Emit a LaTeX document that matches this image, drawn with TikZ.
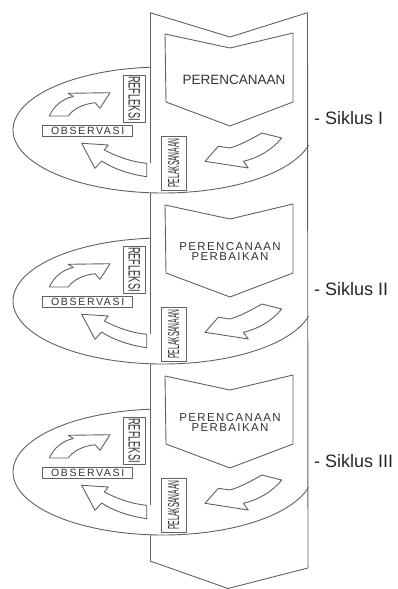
\documentclass[tikz,border=0pt]{standalone}
\usepackage{fontspec}
\setmainfont{Liberation Sans}
\newfontfamily\spA[LetterSpace=12]{Liberation Sans}
\newfontfamily\spB[LetterSpace=16]{Liberation Sans}
\begin{document}
\begin{tikzpicture}[x=1pt,y=-1pt,
  ln/.style={draw=black!62, line width=0.9pt, line join=round},
  blk/.style={ln, fill=white},
  txt/.style={text=black!80, inner sep=0pt},
  lbox/.style={ln, txt, inner sep=0pt, fill=white},
  sik/.style={txt, text=black!85, anchor=west, font=\fontsize{18}{18}\selectfont}]
\useasboundingbox (0,0) rectangle (398,589);
% column corners
\coordinate (tl) at (150,12.7);
\coordinate (tn) at (230,37);
\coordinate (tr) at (307.5,12.7);
\coordinate (bl) at (150,561);
\coordinate (bt) at (228,588.5);
\coordinate (br) at (308,568);
\draw[ln] (tl) -- (tn) -- (tr) -- (br) -- (bt) -- (bl);
\draw[ln] (tl) -- (150,163);
\draw[ln] (150,193) -- (150,334);
\draw[ln] (150,364) -- (150,505);
\draw[ln] (150,535) -- (bl);
\foreach \k in {0,1,2}{
\begin{scope}[shift={(0,171*\k)}]
  % disc
  \draw[ln] plot[smooth, domain=-95:-346, samples=120, variable=\t]
    ({163+150*cos(\t)},{130+63*sin(\t)});
  % chevron
  \draw[ln] (165,34) -- (230,48) -- (293,33) -- (293,102) -- (230,126) -- (166,102) -- cycle;
  % curved block arrows
  \draw[blk] (49.3,116) .. controls (54,106) and (62,99) .. (73.3,96.5) -- (68.3,93.3)
     -- (110,92.7) -- (100,108.3) -- (95,102.7) .. controls (83,104) and (73,109) .. (68.3,116) -- cycle;
  \draw[blk] (81.7,143.3) -- (108.3,145) -- (104.3,150) .. controls (118,157) and (132,162) .. (146.7,163.3)
     -- (146.7,176.7) .. controls (128,174) and (112,168) .. (101.7,161) -- (95,168.3) -- cycle;
  \draw[blk] (261.7,133) -- (281.7,138) .. controls (272,150) and (258,158) .. (243.3,161.3)
     -- (248.3,168) -- (205,161.3) -- (218.3,146.3) -- (230,148) .. controls (240,145) and (250,140) .. (261.7,133) -- cycle;
  % label boxes
  \node[lbox, minimum width=90pt, minimum height=11.7pt] (obs\k) at (87.7,130.9)
    {\spB\fontsize{10.5}{10.5}\selectfont OBSERVASI};
  \node[lbox, rotate=-90, minimum width=47pt, minimum height=21.7pt] (ref\k) at (134.2,98.5)
    {\scalebox{0.56}[1]{\fontsize{16.5}{16.5}\selectfont REFLEKSI}};
  \node[lbox, rotate=90, minimum width=54pt, minimum height=25pt] (pel\k) at (173.5,163)
    {\scalebox{0.42}[1]{\fontsize{16}{16}\selectfont PELAKSANAAN}};
\end{scope}
}
\node[txt, font=\fontsize{13.5}{13.5}\selectfont] (p1) at (234,80) {PERENCANAAN};
\node[txt, align=center, font=\spA\fontsize{11.5}{10}\selectfont] (p2) at (230,251) {PERENCANAAN\\PERBAIKAN};
\node[txt, align=center, font=\spA\fontsize{11.5}{10}\selectfont] (p3) at (230,422) {PERENCANAAN\\PERBAIKAN};
\node[sik] (s1) at (314,118) {- Siklus I};
\node[sik] (s2) at (314,289) {- Siklus II};
\node[sik] (s3) at (314,461) {- Siklus III};
\end{tikzpicture}
\end{document}
